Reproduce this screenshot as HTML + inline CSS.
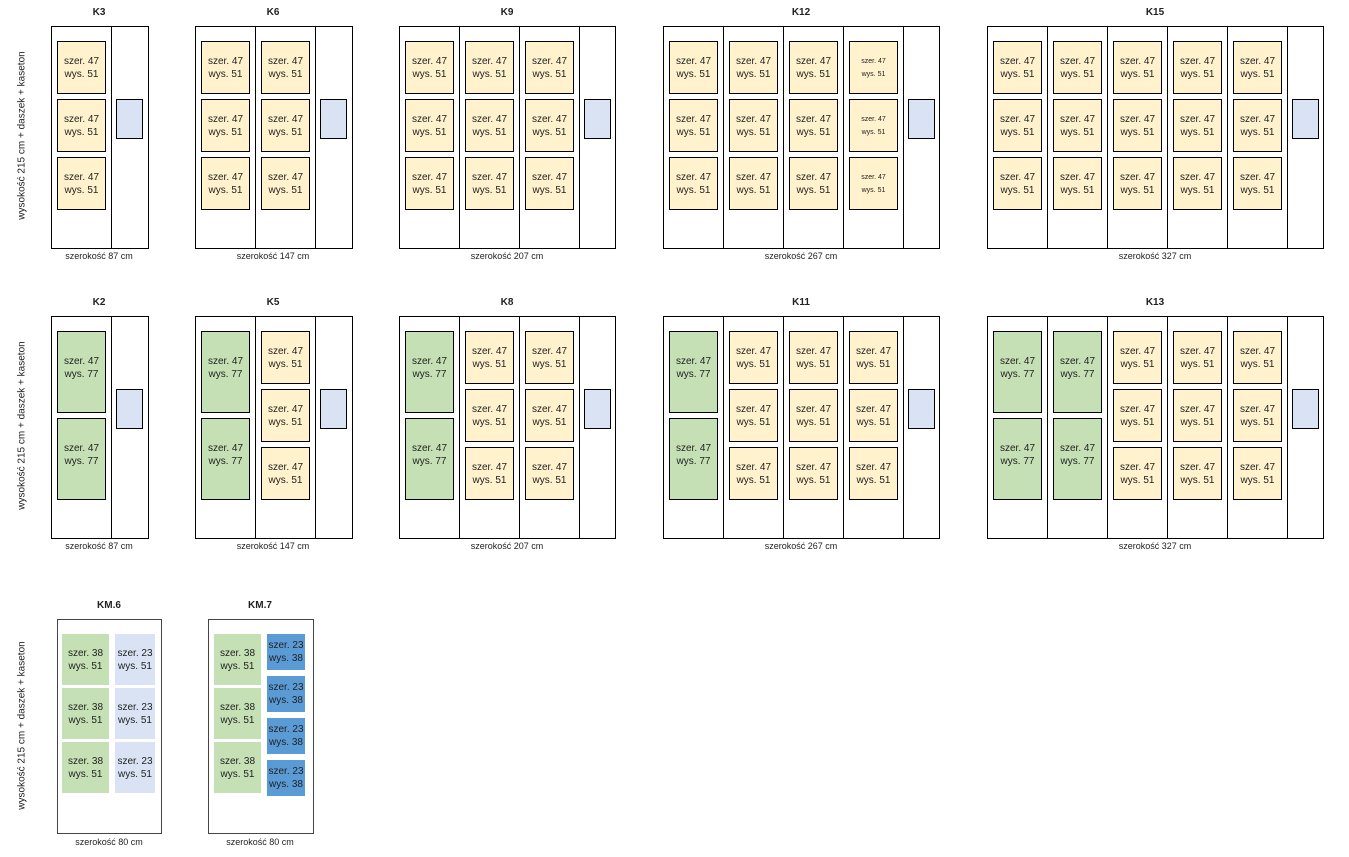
<!DOCTYPE html>
<html><head><meta charset="utf-8"><style>
body{margin:0;width:1349px;height:857px;background:#fff;position:relative;overflow:hidden;font-family:"Liberation Sans",sans-serif;color:#222}
div{position:absolute;box-sizing:border-box}
.c{border:1px solid #000;background:#fff}
.y,.g,.lb,.db,.lg{display:flex;align-items:center;justify-content:center;text-align:center;font-size:10px;line-height:13px}
.y{width:49px;height:53px;background:#fff2cc;border:1px solid #000}
.g{width:49px;height:82px;background:#c5e0b4;border:1px solid #000;padding-bottom:8px}
.b{width:27px;height:40px;background:#dae3f3;border:1px solid #000}
.s{font-size:7px;line-height:13px}
.t{font-weight:bold;font-size:10px;text-align:center;width:100px}
.w{font-size:9px;text-align:center;width:160px}
.v{font-size:10px;transform:rotate(-90deg);width:220px;text-align:center;left:-88px}
.lg{background:#c5e0b4;width:47px;height:51px}
.lb{background:#dae3f3;width:40px;height:51px}
.db{background:#5b9bd5;width:38px;height:36px}
</style></head><body>
<div class="v" style="top:130px">wysokość 215 cm + daszek + kaseton</div>
<div class="v" style="top:420px">wysokość 215 cm + daszek + kaseton</div>
<div class="v" style="top:720px">wysokość 215 cm + daszek + kaseton</div>

<!-- ROW 1 -->
<div class="t" style="left:49px;top:7px">K3</div>
<div class="t" style="left:223px;top:7px">K6</div>
<div class="t" style="left:457px;top:7px">K9</div>
<div class="t" style="left:751px;top:7px">K12</div>
<div class="t" style="left:1105px;top:7px">K15</div>
<div class="w" style="left:19px;top:251px">szerokość 87 cm</div>
<div class="w" style="left:193px;top:251px">szerokość 147 cm</div>
<div class="w" style="left:427px;top:251px">szerokość 207 cm</div>
<div class="w" style="left:721px;top:251px">szerokość 267 cm</div>
<div class="w" style="left:1075px;top:251px">szerokość 327 cm</div>

<div class="c" style="left:51px;top:26px;width:61px;height:223px"></div><div class="c" style="left:111px;top:26px;width:38px;height:223px"></div>
<div class="c" style="left:195px;top:26px;width:61px;height:223px"></div><div class="c" style="left:255px;top:26px;width:61px;height:223px"></div><div class="c" style="left:315px;top:26px;width:38px;height:223px"></div>
<div class="c" style="left:399px;top:26px;width:61px;height:223px"></div><div class="c" style="left:459px;top:26px;width:61px;height:223px"></div><div class="c" style="left:519px;top:26px;width:61px;height:223px"></div><div class="c" style="left:579px;top:26px;width:37px;height:223px"></div>
<div class="c" style="left:663px;top:26px;width:61px;height:223px"></div><div class="c" style="left:723px;top:26px;width:61px;height:223px"></div><div class="c" style="left:783px;top:26px;width:61px;height:223px"></div><div class="c" style="left:843px;top:26px;width:61px;height:223px"></div><div class="c" style="left:903px;top:26px;width:37px;height:223px"></div>
<div class="c" style="left:987px;top:26px;width:61px;height:223px"></div><div class="c" style="left:1047px;top:26px;width:61px;height:223px"></div><div class="c" style="left:1107px;top:26px;width:61px;height:223px"></div><div class="c" style="left:1167px;top:26px;width:61px;height:223px"></div><div class="c" style="left:1227px;top:26px;width:61px;height:223px"></div><div class="c" style="left:1287px;top:26px;width:37px;height:223px"></div>

<div class="b" style="left:116px;top:99px"></div><div class="b" style="left:320px;top:99px"></div><div class="b" style="left:584px;top:99px"></div><div class="b" style="left:908px;top:99px"></div><div class="b" style="left:1292px;top:99px"></div>

<!-- K3 -->
<div class="y" style="left:57px;top:41px">szer. 47<br>wys. 51</div><div class="y" style="left:57px;top:99px">szer. 47<br>wys. 51</div><div class="y" style="left:57px;top:157px">szer. 47<br>wys. 51</div>
<!-- K6 -->
<div class="y" style="left:201px;top:41px">szer. 47<br>wys. 51</div><div class="y" style="left:201px;top:99px">szer. 47<br>wys. 51</div><div class="y" style="left:201px;top:157px">szer. 47<br>wys. 51</div>
<div class="y" style="left:261px;top:41px">szer. 47<br>wys. 51</div><div class="y" style="left:261px;top:99px">szer. 47<br>wys. 51</div><div class="y" style="left:261px;top:157px">szer. 47<br>wys. 51</div>
<!-- K9 -->
<div class="y" style="left:405px;top:41px">szer. 47<br>wys. 51</div><div class="y" style="left:405px;top:99px">szer. 47<br>wys. 51</div><div class="y" style="left:405px;top:157px">szer. 47<br>wys. 51</div>
<div class="y" style="left:465px;top:41px">szer. 47<br>wys. 51</div><div class="y" style="left:465px;top:99px">szer. 47<br>wys. 51</div><div class="y" style="left:465px;top:157px">szer. 47<br>wys. 51</div>
<div class="y" style="left:525px;top:41px">szer. 47<br>wys. 51</div><div class="y" style="left:525px;top:99px">szer. 47<br>wys. 51</div><div class="y" style="left:525px;top:157px">szer. 47<br>wys. 51</div>
<!-- K12 -->
<div class="y" style="left:669px;top:41px">szer. 47<br>wys. 51</div><div class="y" style="left:669px;top:99px">szer. 47<br>wys. 51</div><div class="y" style="left:669px;top:157px">szer. 47<br>wys. 51</div>
<div class="y" style="left:729px;top:41px">szer. 47<br>wys. 51</div><div class="y" style="left:729px;top:99px">szer. 47<br>wys. 51</div><div class="y" style="left:729px;top:157px">szer. 47<br>wys. 51</div>
<div class="y" style="left:789px;top:41px">szer. 47<br>wys. 51</div><div class="y" style="left:789px;top:99px">szer. 47<br>wys. 51</div><div class="y" style="left:789px;top:157px">szer. 47<br>wys. 51</div>
<div class="y s" style="left:849px;top:41px">szer. 47<br>wys. 51</div><div class="y s" style="left:849px;top:99px">szer. 47<br>wys. 51</div><div class="y s" style="left:849px;top:157px">szer. 47<br>wys. 51</div>
<!-- K15 -->
<div class="y" style="left:993px;top:41px">szer. 47<br>wys. 51</div><div class="y" style="left:993px;top:99px">szer. 47<br>wys. 51</div><div class="y" style="left:993px;top:157px">szer. 47<br>wys. 51</div>
<div class="y" style="left:1053px;top:41px">szer. 47<br>wys. 51</div><div class="y" style="left:1053px;top:99px">szer. 47<br>wys. 51</div><div class="y" style="left:1053px;top:157px">szer. 47<br>wys. 51</div>
<div class="y" style="left:1113px;top:41px">szer. 47<br>wys. 51</div><div class="y" style="left:1113px;top:99px">szer. 47<br>wys. 51</div><div class="y" style="left:1113px;top:157px">szer. 47<br>wys. 51</div>
<div class="y" style="left:1173px;top:41px">szer. 47<br>wys. 51</div><div class="y" style="left:1173px;top:99px">szer. 47<br>wys. 51</div><div class="y" style="left:1173px;top:157px">szer. 47<br>wys. 51</div>
<div class="y" style="left:1233px;top:41px">szer. 47<br>wys. 51</div><div class="y" style="left:1233px;top:99px">szer. 47<br>wys. 51</div><div class="y" style="left:1233px;top:157px">szer. 47<br>wys. 51</div>

<!-- ROW 2 -->
<div class="t" style="left:49px;top:297px">K2</div>
<div class="t" style="left:223px;top:297px">K5</div>
<div class="t" style="left:457px;top:297px">K8</div>
<div class="t" style="left:751px;top:297px">K11</div>
<div class="t" style="left:1105px;top:297px">K13</div>
<div class="w" style="left:19px;top:541px">szerokość 87 cm</div>
<div class="w" style="left:193px;top:541px">szerokość 147 cm</div>
<div class="w" style="left:427px;top:541px">szerokość 207 cm</div>
<div class="w" style="left:721px;top:541px">szerokość 267 cm</div>
<div class="w" style="left:1075px;top:541px">szerokość 327 cm</div>

<div class="c" style="left:51px;top:316px;width:61px;height:223px"></div><div class="c" style="left:111px;top:316px;width:38px;height:223px"></div>
<div class="c" style="left:195px;top:316px;width:61px;height:223px"></div><div class="c" style="left:255px;top:316px;width:61px;height:223px"></div><div class="c" style="left:315px;top:316px;width:38px;height:223px"></div>
<div class="c" style="left:399px;top:316px;width:61px;height:223px"></div><div class="c" style="left:459px;top:316px;width:61px;height:223px"></div><div class="c" style="left:519px;top:316px;width:61px;height:223px"></div><div class="c" style="left:579px;top:316px;width:37px;height:223px"></div>
<div class="c" style="left:663px;top:316px;width:61px;height:223px"></div><div class="c" style="left:723px;top:316px;width:61px;height:223px"></div><div class="c" style="left:783px;top:316px;width:61px;height:223px"></div><div class="c" style="left:843px;top:316px;width:61px;height:223px"></div><div class="c" style="left:903px;top:316px;width:37px;height:223px"></div>
<div class="c" style="left:987px;top:316px;width:61px;height:223px"></div><div class="c" style="left:1047px;top:316px;width:61px;height:223px"></div><div class="c" style="left:1107px;top:316px;width:61px;height:223px"></div><div class="c" style="left:1167px;top:316px;width:61px;height:223px"></div><div class="c" style="left:1227px;top:316px;width:61px;height:223px"></div><div class="c" style="left:1287px;top:316px;width:37px;height:223px"></div>

<div class="b" style="left:116px;top:389px"></div><div class="b" style="left:320px;top:389px"></div><div class="b" style="left:584px;top:389px"></div><div class="b" style="left:908px;top:389px"></div><div class="b" style="left:1292px;top:389px"></div>

<!-- greens -->
<div class="g" style="left:57px;top:331px">szer. 47<br>wys. 77</div><div class="g" style="left:57px;top:418px">szer. 47<br>wys. 77</div>
<div class="g" style="left:201px;top:331px">szer. 47<br>wys. 77</div><div class="g" style="left:201px;top:418px">szer. 47<br>wys. 77</div>
<div class="g" style="left:405px;top:331px">szer. 47<br>wys. 77</div><div class="g" style="left:405px;top:418px">szer. 47<br>wys. 77</div>
<div class="g" style="left:669px;top:331px">szer. 47<br>wys. 77</div><div class="g" style="left:669px;top:418px">szer. 47<br>wys. 77</div>
<div class="g" style="left:993px;top:331px">szer. 47<br>wys. 77</div><div class="g" style="left:993px;top:418px">szer. 47<br>wys. 77</div>
<div class="g" style="left:1053px;top:331px">szer. 47<br>wys. 77</div><div class="g" style="left:1053px;top:418px">szer. 47<br>wys. 77</div>
<!-- yellows row 2 -->
<div class="y" style="left:261px;top:331px">szer. 47<br>wys. 51</div><div class="y" style="left:261px;top:389px">szer. 47<br>wys. 51</div><div class="y" style="left:261px;top:447px">szer. 47<br>wys. 51</div>
<div class="y" style="left:465px;top:331px">szer. 47<br>wys. 51</div><div class="y" style="left:465px;top:389px">szer. 47<br>wys. 51</div><div class="y" style="left:465px;top:447px">szer. 47<br>wys. 51</div>
<div class="y" style="left:525px;top:331px">szer. 47<br>wys. 51</div><div class="y" style="left:525px;top:389px">szer. 47<br>wys. 51</div><div class="y" style="left:525px;top:447px">szer. 47<br>wys. 51</div>
<div class="y" style="left:729px;top:331px">szer. 47<br>wys. 51</div><div class="y" style="left:729px;top:389px">szer. 47<br>wys. 51</div><div class="y" style="left:729px;top:447px">szer. 47<br>wys. 51</div>
<div class="y" style="left:789px;top:331px">szer. 47<br>wys. 51</div><div class="y" style="left:789px;top:389px">szer. 47<br>wys. 51</div><div class="y" style="left:789px;top:447px">szer. 47<br>wys. 51</div>
<div class="y" style="left:849px;top:331px">szer. 47<br>wys. 51</div><div class="y" style="left:849px;top:389px">szer. 47<br>wys. 51</div><div class="y" style="left:849px;top:447px">szer. 47<br>wys. 51</div>
<div class="y" style="left:1113px;top:331px">szer. 47<br>wys. 51</div><div class="y" style="left:1113px;top:389px">szer. 47<br>wys. 51</div><div class="y" style="left:1113px;top:447px">szer. 47<br>wys. 51</div>
<div class="y" style="left:1173px;top:331px">szer. 47<br>wys. 51</div><div class="y" style="left:1173px;top:389px">szer. 47<br>wys. 51</div><div class="y" style="left:1173px;top:447px">szer. 47<br>wys. 51</div>
<div class="y" style="left:1233px;top:331px">szer. 47<br>wys. 51</div><div class="y" style="left:1233px;top:389px">szer. 47<br>wys. 51</div><div class="y" style="left:1233px;top:447px">szer. 47<br>wys. 51</div>

<!-- ROW 3 -->
<div class="t" style="left:59px;top:600px">KM.6</div>
<div class="t" style="left:210px;top:600px">KM.7</div>
<div class="w" style="left:29px;top:837px">szerokość 80 cm</div>
<div class="w" style="left:180px;top:837px">szerokość 80 cm</div>
<div class="c" style="left:57px;top:619px;width:105px;height:215px;border-color:#444"></div>
<div class="c" style="left:208px;top:619px;width:106px;height:215px;border-color:#444"></div>

<div class="lg" style="left:62px;top:634px">szer. 38<br>wys. 51</div><div class="lg" style="left:62px;top:688px">szer. 38<br>wys. 51</div><div class="lg" style="left:62px;top:742px">szer. 38<br>wys. 51</div>
<div class="lb" style="left:115px;top:634px">szer. 23<br>wys. 51</div><div class="lb" style="left:115px;top:688px">szer. 23<br>wys. 51</div><div class="lb" style="left:115px;top:742px">szer. 23<br>wys. 51</div>
<div class="lg" style="left:214px;top:634px">szer. 38<br>wys. 51</div><div class="lg" style="left:214px;top:688px">szer. 38<br>wys. 51</div><div class="lg" style="left:214px;top:742px">szer. 38<br>wys. 51</div>
<div class="db" style="left:267px;top:634px">szer. 23<br>wys. 38</div><div class="db" style="left:267px;top:676px">szer. 23<br>wys. 38</div><div class="db" style="left:267px;top:718px">szer. 23<br>wys. 38</div><div class="db" style="left:267px;top:760px">szer. 23<br>wys. 38</div>
</body></html>
